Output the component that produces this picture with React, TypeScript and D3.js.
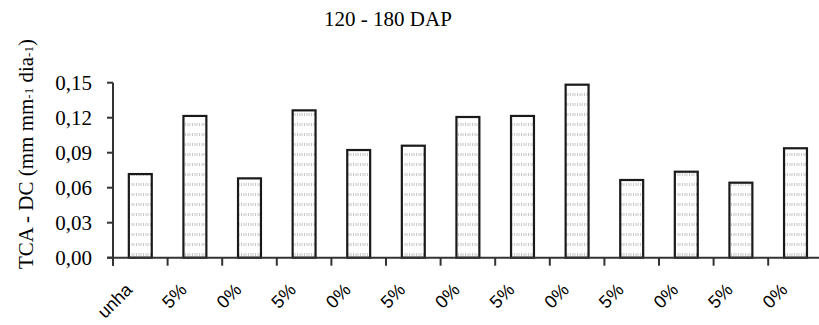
import React, { useEffect, useRef } from 'react';
import * as d3 from 'd3';

const title = '120 - 180 DAP';
const categories = ['unha', '5%', '0%', '5%', '0%', '5%', '0%', '5%', '0%', '5%', '0%', '5%', '0%'];
const values = [0.0717, 0.1215, 0.068, 0.1263, 0.0923, 0.096, 0.1206, 0.1215, 0.1483, 0.0666, 0.0737, 0.0643, 0.0938];
const yTicks = [0, 0.03, 0.06, 0.09, 0.12, 0.15];

export default function App() {
  const svgRef = useRef<SVGSVGElement>(null);

  useEffect(() => {
    if (!svgRef.current) return;
    const svg = d3.select(svgRef.current);
    svg.selectAll('*').remove();

    const width = 819;
    const left = 113;
    const top = 82.7;
    const bottom = 257.7;
    const step = 54.6;

    // pattern for the dotted bar fill
    const defs = svg.append('defs');
    const pat = defs.append('pattern')
      .attr('id', 'dots')
      .attr('patternUnits', 'userSpaceOnUse')
      .attr('width', 7).attr('height', 10);
    pat.append('rect').attr('width', 7).attr('height', 10).attr('fill', '#fff');
    [1, 3.5, 6].forEach(px => {
      pat.append('rect').attr('x', px - 0.5).attr('y', 3).attr('width', 1).attr('height', 3).attr('fill', '#c8c8c8');
    });

    const x = d3.scaleBand<number>()
      .domain(d3.range(categories.length))
      .range([left, left + step * categories.length])
      .paddingInner(0.58)
      .paddingOuter(0.29);

    const y = d3.scaleLinear().domain([0, 0.15]).range([bottom, top]);
    const fmt = (v: number) => d3.format('.2f')(v).replace('.', ',');

    // title
    svg.append('text')
      .attr('x', 388).attr('y', 26)
      .attr('text-anchor', 'middle')
      .attr('font-family', '"Liberation Serif", "Times New Roman", serif')
      .attr('font-size', 21)
      .attr('fill', '#000')
      .text(title);

    // bars
    svg.append('g').selectAll('rect')
      .data(values)
      .join('rect')
      .attr('x', (_, i) => x(i)!)
      .attr('y', d => y(d))
      .attr('width', x.bandwidth())
      .attr('height', d => bottom - y(d))
      .attr('fill', 'url(#dots)')
      .attr('stroke', '#1a1a1a')
      .attr('stroke-width', 2.2);

    // y axis
    const ya = svg.append('g');
    ya.append('line')
      .attr('x1', left).attr('x2', left)
      .attr('y1', top).attr('y2', bottom + 8)
      .attr('stroke', '#333').attr('stroke-width', 2);
    yTicks.forEach(t => {
      ya.append('line')
        .attr('x1', left - 6).attr('x2', left)
        .attr('y1', y(t)).attr('y2', y(t))
        .attr('stroke', '#333').attr('stroke-width', 2);
      ya.append('text')
        .attr('x', left - 21).attr('y', y(t))
        .attr('dy', '0.35em')
        .attr('text-anchor', 'end')
        .attr('font-family', '"Liberation Serif", "Times New Roman", serif')
        .attr('font-size', 21)
        .attr('fill', '#000')
        .text(fmt(t));
    });

    // x axis
    const xa = svg.append('g');
    xa.append('line')
      .attr('x1', left - 6).attr('x2', width)
      .attr('y1', bottom).attr('y2', bottom)
      .attr('stroke', '#333').attr('stroke-width', 2);
    d3.range(categories.length).forEach(i => {
      const tx = left + i * x.step();
      xa.append('line')
        .attr('x1', tx).attr('x2', tx)
        .attr('y1', bottom).attr('y2', bottom + 8)
        .attr('stroke', '#333').attr('stroke-width', 2);
    });
    xa.selectAll('text.cat')
      .data(categories)
      .join('text')
      .attr('class', 'cat')
      .attr('transform', (_, i) => `translate(${x(i)! + x.bandwidth() / 2 - 7},291) rotate(-45)`)
      .attr('text-anchor', 'end')
      .attr('font-family', '"Liberation Sans", Arial, sans-serif')
      .attr('font-size', 18)
      .attr('fill', '#000')
      .text(d => d);

    // y label
    const yl = svg.append('text')
      .attr('transform', 'translate(33,154) rotate(-90)')
      .attr('text-anchor', 'middle')
      .attr('font-family', '"Liberation Serif", "Times New Roman", serif')
      .attr('font-size', 21)
      .attr('fill', '#000');
    yl.append('tspan').text('TCA - DC (mm mm');
    yl.append('tspan').attr('font-size', 13).text('-1');
    yl.append('tspan').text(' dia');
    yl.append('tspan').attr('font-size', 13).text('-1');
    yl.append('tspan').text(')');
  }, []);

  return (
    <svg
      ref={svgRef}
      width={819}
      height={325}
      style={{ position: 'absolute', left: 0, top: 0, background: '#fff' }}
    />
  );
}
